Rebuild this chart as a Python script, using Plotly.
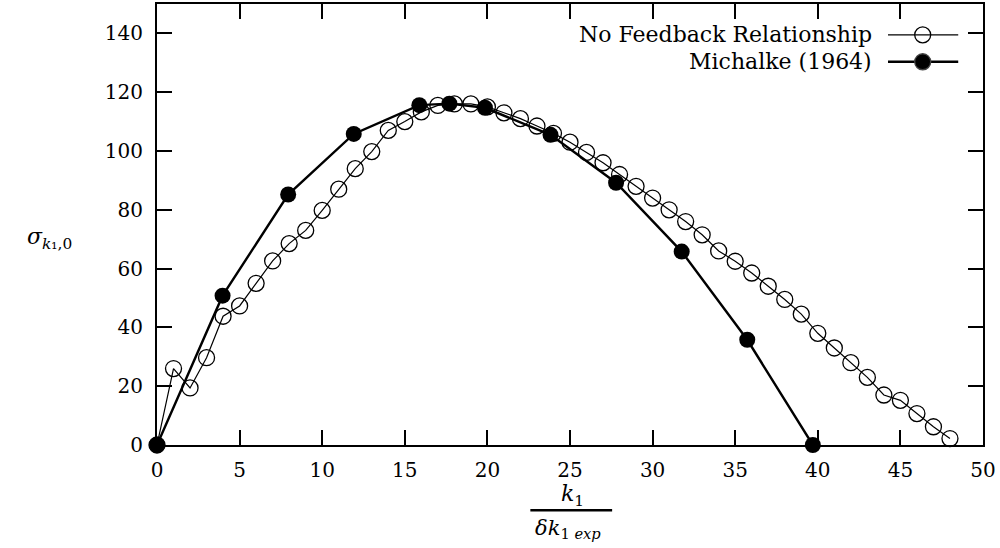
import plotly.graph_objects as go

# ---- data ----
nofb_x = list(range(0, 49))
nofb_y = [0, 26, 19.4, 29.7, 43.8, 47.3, 55, 62.6, 68.5, 73, 79.8,
          87, 94, 99.8, 107, 110, 113.3, 115.5, 116, 116, 115,
          113, 111, 108.5, 106, 103, 99.5, 96, 92, 88, 84,
          80, 76, 71.5, 66, 62.5, 58.5, 54, 49.5, 44.5, 38,
          33, 28, 23, 17, 15.2, 10.7, 6.2, 2.2]

mich_x = [0, 3.97, 7.94, 11.91, 15.88, 17.7, 19.85, 23.82, 27.79, 31.76, 35.73, 39.7]
mich_y = [0, 50.8, 85.2, 105.8, 115.6, 116.1, 114.7, 105.5, 89.2, 65.8, 35.8, 0]

x_ticks = [0, 5, 10, 15, 20, 25, 30, 35, 40, 45, 50]
y_ticks = [0, 20, 40, 60, 80, 100, 120, 140]

names = ["No Feedback Relationship", "Michalke (1964)"]

FONT = "DejaVu Serif"
fig = go.Figure()

fig.add_trace(go.Scatter(
    x=nofb_x, y=nofb_y, mode="lines+markers", name=names[0],
    line=dict(color="black", width=1.2),
    marker=dict(symbol="circle-open", size=16, color="black", line=dict(width=1.3)),
    cliponaxis=False, showlegend=False))

fig.add_trace(go.Scatter(
    x=mich_x, y=mich_y, mode="lines+markers", name=names[1],
    line=dict(color="black", width=2.4),
    marker=dict(symbol="circle", size=16, color="black"),
    cliponaxis=False, showlegend=False))

# legend samples on an overlay axis (0..1)
leg_y = [0.930, 0.869]
for i, (sym, lw) in enumerate([("circle-open", 1.3), ("circle", 2.4)]):
    fig.add_trace(go.Scatter(x=[0.885, 0.970], y=[leg_y[i]] * 2, mode="lines",
                             line=dict(color="black", width=lw), xaxis="x2", yaxis="y2",
                             showlegend=False, hoverinfo="skip"))
    fig.add_trace(go.Scatter(x=[0.927], y=[leg_y[i]], mode="markers",
                             marker=dict(symbol=sym, size=16, color="black", line=dict(width=1.3)),
                             xaxis="x2", yaxis="y2", showlegend=False, hoverinfo="skip"))
    fig.add_annotation(x=0.868, y=leg_y[i], xref="paper", yref="paper", text=names[i],
                       showarrow=False, xanchor="right", yanchor="middle",
                       font=dict(family=FONT, size=22, color="black"))

axis_common = dict(showgrid=False, zeroline=False, showline=True, linecolor="black",
                   linewidth=2, mirror="ticks", ticks="inside", ticklen=15, tickwidth=2,
                   tickcolor="black", tickfont=dict(family=FONT, size=20, color="black"))

fig.update_layout(
    width=1000, height=548, paper_bgcolor="white", plot_bgcolor="white",
    margin=dict(l=157, r=17, t=2, b=103),
    xaxis=dict(range=[0, 50], tickvals=x_ticks, ticktext=[str(v) for v in x_ticks],
               ticklabelstandoff=6, **axis_common),
    yaxis=dict(range=[0, 150], tickvals=y_ticks, ticktext=[str(v) for v in y_ticks],
               ticklabelstandoff=8, **axis_common),
    xaxis2=dict(range=[0, 1], overlaying="x", visible=False, fixedrange=True),
    yaxis2=dict(range=[0, 1], overlaying="y", visible=False, fixedrange=True),
    showlegend=False,
)

# y-axis label
fig.add_annotation(x=-0.16, y=0.468, xref="paper", yref="paper",
                   text="<i>σ</i><sub><i>k</i>₁,0</sub>", showarrow=False,
                   xanchor="left", yanchor="middle",
                   font=dict(family=FONT, size=22, color="black"))

# x-axis label as fraction
fig.add_annotation(x=0.503, y=-0.115, xref="paper", yref="paper",
                   text="<i>k</i><sub>1</sub>", showarrow=False,
                   xanchor="center", yanchor="middle",
                   font=dict(family=FONT, size=22, color="black"))
fig.add_shape(type="line", xref="paper", yref="paper", x0=0.452, x1=0.551,
              y0=-0.148, y1=-0.148, line=dict(color="black", width=2.5))
fig.add_annotation(x=0.497, y=-0.19, xref="paper", yref="paper",
                   text="<i>δk</i><sub>1 <i>exp</i></sub>", showarrow=False,
                   xanchor="center", yanchor="middle",
                   font=dict(family=FONT, size=21, color="black"))

fig.write_html("out.html")
